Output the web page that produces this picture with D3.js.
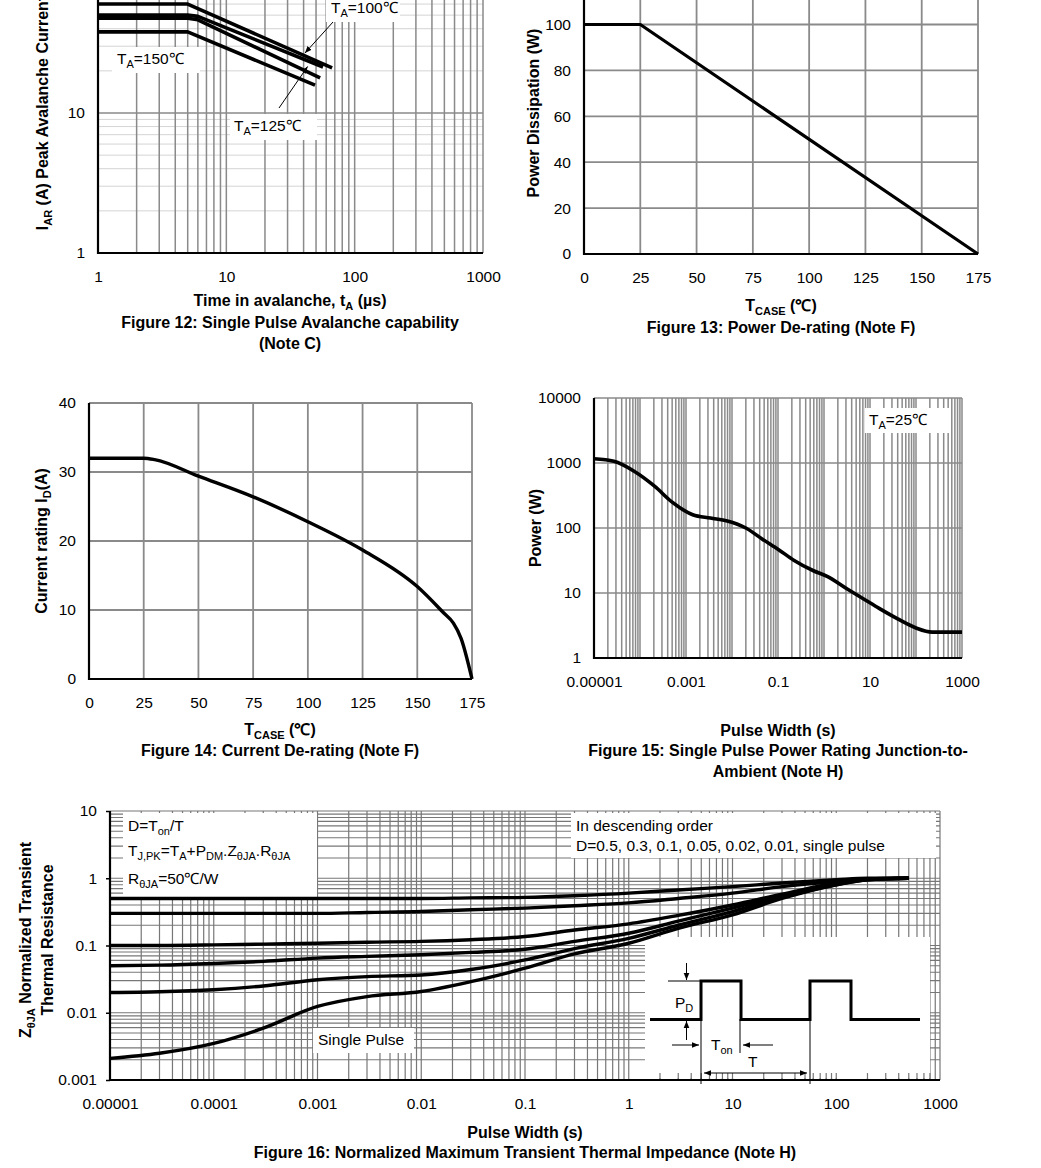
<!DOCTYPE html>
<html>
<head>
<meta charset="utf-8">
<script src="https://cdn.jsdelivr.net/npm/d3@7"></script>
<style>
body { margin: 0; background: #fff; }
svg { display: block; font-family: "Liberation Sans", Arial, Helvetica, sans-serif; }
</style>
</head>
<body>
<svg id="sheet" width="1041" height="1168"></svg>
<script>
"use strict";

// ---- Figure 12: avalanche current vs time (us, A) ----
var avT1 = [1, 5, 66.7], avI1 = [60, 60, 21];
var avT2 = [1, 5, 6, 56.7], avI2 = [50, 50, 49, 21.3];
var avT3 = [1, 5, 6, 53.8], avI3 = [47.5, 47.5, 46.3, 17.8];
var avT4 = [1, 5, 49.1], avI4 = [38, 38, 15.8];
var avXTicks = [1, 10, 100, 1000], avXLabels = ["1", "10", "100", "1000"];
var avYTicks = [1, 10, 100], avYLabels = ["1", "10", "100"];

// ---- Figure 13: power de-rating ----
var pdTemp = [0, 25, 175];
var pdPower = [100, 100, 0];
var pdXTicks = [0, 25, 50, 75, 100, 125, 150, 175];
var pdYTicks = [0, 20, 40, 60, 80, 100, 120];

// ---- Figure 14: current de-rating ----
var idTemp = [0, 25, 30, 50, 75, 100, 125, 150, 162, 166.5, 170, 175];
var idCurrent = [32, 32, 31.8, 29.4, 26.4, 22.8, 18.7, 13.4, 9.6, 8.1, 5.9, 0];
var idXTicks = [0, 25, 50, 75, 100, 125, 150, 175];
var idYTicks = [0, 10, 20, 30, 40];

// ---- Figure 15: single pulse power ----
var spWidth = [1e-5, 2.7e-5, 7.6e-5, 2.1e-4, 5e-4, 1.4e-3, 3.4e-3, 7.9e-3, 0.02, 0.045, 0.105, 0.22, 0.59, 1.17, 3.2, 7.9, 15.8, 40, 100, 224, 1000];
var spPower = [1160, 1060, 740, 436, 250, 160, 142, 128, 100, 68, 46, 32, 22, 18, 11.5, 7.8, 5.8, 4.0, 2.9, 2.5, 2.5];
var spXTicks = [1e-5, 1e-3, 0.1, 10, 1000], spXLabels = ["0.00001", "0.001", "0.1", "10", "1000"];
var spYTicks = [1, 10, 100, 1000, 10000], spYLabels = ["1", "10", "100", "1000", "10000"];

// ---- Figure 16: normalized transient thermal impedance ----
var ztTime = [1e-5, 3e-5, 1e-4, 3e-4, 1e-3, 3e-3, 0.01, 0.03, 0.1, 0.3, 1, 3, 10, 30, 100, 200, 500];
var ztD05 = [0.5, 0.5, 0.5, 0.5, 0.5, 0.5, 0.5, 0.51, 0.52, 0.55, 0.6, 0.67, 0.75, 0.85, 0.95, 1.0, 1.0];
var ztD03 = [0.3, 0.3, 0.3, 0.3, 0.3, 0.31, 0.32, 0.34, 0.36, 0.39, 0.43, 0.5, 0.6, 0.75, 0.9, 0.98, 1.0];
var ztD01 = [0.1, 0.1, 0.102, 0.105, 0.108, 0.112, 0.115, 0.122, 0.136, 0.17, 0.21, 0.28, 0.4, 0.58, 0.85, 0.97, 1.0];
var ztD005 = [0.05, 0.051, 0.054, 0.058, 0.065, 0.069, 0.073, 0.079, 0.088, 0.115, 0.152, 0.23, 0.36, 0.55, 0.82, 0.96, 1.0];
var ztD002 = [0.02, 0.0205, 0.022, 0.025, 0.031, 0.0345, 0.0365, 0.044, 0.061, 0.09, 0.128, 0.2, 0.32, 0.52, 0.8, 0.95, 1.0];
var ztSingle = [0.0021, 0.0025, 0.0035, 0.0059, 0.0124, 0.0174, 0.0207, 0.029, 0.046, 0.075, 0.108, 0.18, 0.285, 0.5, 0.8, 0.95, 1.0];
var ztXTicks = [1e-5, 1e-4, 1e-3, 0.01, 0.1, 1, 10, 100, 1000];
var ztXLabels = ["0.00001", "0.0001", "0.001", "0.01", "0.1", "1", "10", "100", "1000"];
var ztYTicks = [0.001, 0.01, 0.1, 1, 10], ztYLabels = ["0.001", "0.01", "0.1", "1", "10"];

var svg = d3.select("#sheet");
svg.append("rect").attr("width", 1041).attr("height", 1168).attr("fill", "#fff");

var defs = svg.append("defs");
defs.append("marker").attr("id", "arr")
    .attr("viewBox", "0 0 10 10").attr("refX", 10).attr("refY", 5)
    .attr("markerWidth", 7).attr("markerHeight", 7).attr("orient", "auto-start-reverse")
    .append("path").attr("d", "M0,1 L10,5 L0,9 Z").attr("fill", "#000");

var GRID = "#8a8a8a";
var FS = 15.5, FSB = 16, FSUB = 11;

function logVals(lo, hi) {
    var out = [];
    for (var e = Math.round(Math.log10(lo)); e < Math.round(Math.log10(hi)); e++) {
        for (var k = 1; k < 10; k++) out.push(k * Math.pow(10, e));
    }
    out.push(hi);
    return out;
}
function isDecade(d) {
    var l = Math.log10(d);
    return Math.abs(l - Math.round(l)) < 1e-9;
}

function vlines(g, x, y, vals, color, w) {
    g.append("g").selectAll("line").data(vals).enter().append("line")
        .attr("x1", function (d) { return x(d); }).attr("x2", function (d) { return x(d); })
        .attr("y1", y.range()[0]).attr("y2", y.range()[1])
        .attr("stroke", color).attr("stroke-width", w);
}
function hlines(g, x, y, vals, color, w) {
    g.append("g").selectAll("line").data(vals).enter().append("line")
        .attr("y1", function (d) { return y(d); }).attr("y2", function (d) { return y(d); })
        .attr("x1", x.range()[0]).attr("x2", x.range()[1])
        .attr("stroke", color).attr("stroke-width", w);
}
function frame(g, x, y) {
    g.append("line").attr("x1", x.range()[0]).attr("x2", x.range()[0])
        .attr("y1", y.range()[0] + 1).attr("y2", y.range()[1])
        .attr("stroke", "#000").attr("stroke-width", 2.2);
    g.append("line").attr("x1", x.range()[0]).attr("x2", x.range()[1])
        .attr("y1", y.range()[0]).attr("y2", y.range()[0])
        .attr("stroke", "#000").attr("stroke-width", 2.2);
}
function xAxis(g, x, y, vals, labels) {
    var a = g.append("g").attr("transform", "translate(0," + y.range()[0] + ")")
        .call(d3.axisBottom(x).tickValues(vals).tickSize(0).tickPadding(18)
            .tickFormat(function (d, i) { return labels ? labels[i] : String(d); }));
    a.select(".domain").remove();
    a.attr("font-size", FS).attr("font-family", null);
}
function yAxis(g, x, y, vals, labels, tick) {
    var a = g.append("g").attr("transform", "translate(" + x.range()[0] + ",0)")
        .call(d3.axisLeft(y).tickValues(vals).tickSize(tick || 0).tickPadding(tick ? 13 - tick : 13)
            .tickFormat(function (d, i) { return labels ? labels[i] : String(d); }));
    a.select(".domain").remove();
    a.selectAll(".tick line").attr("stroke", "#000").attr("stroke-width", 1.5);
    a.attr("font-size", FS).attr("font-family", null);
}
// text with subscripts: parts = [[string, isSub], ...]
function rich(t, parts) {
    var prev = false;
    parts.forEach(function (p) {
        var s = t.append("tspan").text(p[0]);
        if (p[1]) s.style("font-size", FSUB + "px");
        if (p[1] !== prev) s.attr("dy", p[1] ? 4 : -4);
        prev = p[1];
    });
    return t;
}
function label(g, x, y, parts, opt) {
    opt = opt || {};
    var t = g.append("text").attr("x", x).attr("y", y)
        .attr("text-anchor", opt.anchor || "start")
        .attr("font-size", opt.bold ? FSB : FS)
        .attr("font-weight", opt.bold ? "bold" : null);
    if (opt.rotate) {
        t.attr("x", 0).attr("y", 0).attr("transform", "translate(" + x + "," + y + ") rotate(-90)");
    }
    return rich(t, parts);
}
function box(g, x0, y0, x1, y1) {
    g.append("rect").attr("x", x0).attr("y", y0).attr("width", x1 - x0).attr("height", y1 - y0).attr("fill", "#fff");
}
function curve(g, x, y, xs, ys, w, kind) {
    var pts = xs.map(function (d, i) { return [d, ys[i]]; });
    g.append("path").datum(pts)
        .attr("d", d3.line().x(function (d) { return x(d[0]); }).y(function (d) { return y(d[1]); }).curve(kind || d3.curveLinear))
        .attr("fill", "none").attr("stroke", "#000").attr("stroke-width", w)
        .attr("stroke-linejoin", "round");
}

// ================= Figure 12 =================
var g12 = svg.append("g");
var x12 = d3.scaleLog().domain([1, 1000]).range([98, 483]);
var y12 = d3.scaleLog().domain([1, 100]).range([253, -27]);
var y12v = logVals(1, 100);
hlines(g12, x12, y12, y12v.filter(function (d) { return !isDecade(d); }), "#d4d4d4", 1);
hlines(g12, x12, y12, y12v.filter(isDecade), GRID, 1.4);
vlines(g12, x12, y12, logVals(1, 1000), GRID, 1.5);
box(g12, 112, 47, 200, 73);
box(g12, 230, 114, 317, 140);
box(g12, 326, -4, 400, 22);
label(g12, 117, 64, [["T", false], ["A", true], ["=150℃", false]]);
label(g12, 234, 131, [["T", false], ["A", true], ["=125℃", false]]);
label(g12, 331, 13, [["T", false], ["A", true], ["=100℃", false]]);
g12.append("line").attr("x1", 333).attr("y1", 22).attr("x2", x12(41)).attr("y2", y12(26.8))
    .attr("stroke", "#000").attr("stroke-width", 1).attr("marker-end", "url(#arr)");
g12.append("line").attr("x1", 279).attr("y1", 108).attr("x2", x12(43)).attr("y2", y12(21.5))
    .attr("stroke", "#000").attr("stroke-width", 1).attr("marker-end", "url(#arr)");
curve(g12, x12, y12, avT1, avI1, 3.6);
curve(g12, x12, y12, avT2, avI2, 3.6);
curve(g12, x12, y12, avT3, avI3, 3.6);
curve(g12, x12, y12, avT4, avI4, 3.6);
frame(g12, x12, y12);
xAxis(g12, x12, y12, avXTicks, avXLabels);
yAxis(g12, x12, y12, avYTicks, avYLabels);
label(g12, 290, 306, [["Time in avalanche, t", false], ["A", true], [" (µs)", false]], { anchor: "middle", bold: true });
label(g12, 290, 328, [["Figure 12: Single Pulse Avalanche capability", false]], { anchor: "middle", bold: true });
label(g12, 290, 349, [["(Note C)", false]], { anchor: "middle", bold: true });
label(g12, 48, 113, [["I", false], ["AR", true], [" (A) Peak Avalanche Current", false]], { anchor: "middle", bold: true, rotate: true });

// ================= Figure 13 =================
var g13 = svg.append("g");
var x13 = d3.scaleLinear().domain([0, 175]).range([584, 978]);
var y13 = d3.scaleLinear().domain([0, 120]).range([254, -21.4]);
vlines(g13, x13, y13, pdXTicks, GRID, 1.8);
hlines(g13, x13, y13, pdYTicks, GRID, 1.8);
curve(g13, x13, y13, pdTemp, pdPower, 3.2);
frame(g13, x13, y13);
xAxis(g13, x13, y13, pdXTicks);
yAxis(g13, x13, y13, pdYTicks.slice(0, 6));
label(g13, 781, 311, [["T", false], ["CASE", true], [" (℃)", false]], { anchor: "middle", bold: true });
label(g13, 781, 333, [["Figure 13: Power De-rating (Note F)", false]], { anchor: "middle", bold: true });
label(g13, 539, 113, [["Power Dissipation (W)", false]], { anchor: "middle", bold: true, rotate: true });

// ================= Figure 14 =================
var g14 = svg.append("g");
var x14 = d3.scaleLinear().domain([0, 175]).range([89, 472]);
var y14 = d3.scaleLinear().domain([0, 40]).range([679, 403]);
vlines(g14, x14, y14, idXTicks, GRID, 1.8);
hlines(g14, x14, y14, idYTicks, GRID, 1.8);
curve(g14, x14, y14, idTemp, idCurrent, 3.4, d3.curveMonotoneX);
frame(g14, x14, y14);
xAxis(g14, x14, y14, idXTicks);
yAxis(g14, x14, y14, idYTicks);
label(g14, 280, 735, [["T", false], ["CASE", true], [" (℃)", false]], { anchor: "middle", bold: true });
label(g14, 280, 756, [["Figure 14: Current De-rating (Note F)", false]], { anchor: "middle", bold: true });
label(g14, 47, 541, [["Current rating I", false], ["D", true], ["(A)", false]], { anchor: "middle", bold: true, rotate: true });

// ================= Figure 15 =================
var g15 = svg.append("g");
var x15 = d3.scaleLog().domain([1e-5, 1000]).range([594, 962]);
var y15 = d3.scaleLog().domain([1, 10000]).range([658, 398]);
vlines(g15, x15, y15, logVals(1e-5, 1000), GRID, 1.5);
hlines(g15, x15, y15, spYTicks, GRID, 1.6);
box(g15, 865, 408, 950, 433);
label(g15, 869, 425, [["T", false], ["A", true], ["=25℃", false]]);
curve(g15, x15, y15, spWidth, spPower, 3.6, d3.curveMonotoneX);
frame(g15, x15, y15);
xAxis(g15, x15, y15, spXTicks, spXLabels);
yAxis(g15, x15, y15, spYTicks, spYLabels);
label(g15, 778, 736, [["Pulse Width (s)", false]], { anchor: "middle", bold: true });
label(g15, 778, 756, [["Figure 15: Single Pulse Power Rating Junction-to-", false]], { anchor: "middle", bold: true });
label(g15, 778, 777, [["Ambient (Note H)", false]], { anchor: "middle", bold: true });
label(g15, 541, 528, [["Power (W)", false]], { anchor: "middle", bold: true, rotate: true });

// ================= Figure 16 =================
var g16 = svg.append("g");
var x16 = d3.scaleLog().domain([1e-5, 1000]).range([110, 940]);
var y16 = d3.scaleLog().domain([0.001, 10]).range([1080, 811]);
var x16v = logVals(1e-5, 1000);
hlines(g16, x16, y16, logVals(0.001, 10), "#777", 1.2);
vlines(g16, x16, y16, x16v, "#777", 1.2);
box(g16, 123, 813, 317, 897);
box(g16, 571, 813, 936, 858);
box(g16, 313, 1028, 414, 1053);
box(g16, 645, 937, 930, 1078);
// short tick stubs along the bottom edge inside the inset
g16.append("g").selectAll("line").data(x16v.filter(function (d) { return x16(d) > 648 && x16(d) < 930; }))
    .enter().append("line")
    .attr("x1", function (d) { return x16(d); }).attr("x2", function (d) { return x16(d); })
    .attr("y1", 1080).attr("y2", 1073).attr("stroke", "#777").attr("stroke-width", 1.2);

label(g16, 128, 831, [["D=T", false], ["on", true], ["/T", false]]);
label(g16, 128, 856, [["T", false], ["J,PK", true], ["=T", false], ["A", true], ["+P", false], ["DM", true], [".Z", false], ["θJA", true], [".R", false], ["θJA", true]]);
label(g16, 128, 884, [["R", false], ["θJA", true], ["=50℃/W", false]]);
label(g16, 576, 831, [["In descending order", false]]);
label(g16, 576, 851, [["D=0.5, 0.3, 0.1, 0.05, 0.02, 0.01, single pulse", false]]);
label(g16, 318, 1045, [["Single Pulse", false]]);

[ztD05, ztD03, ztD01, ztD005, ztD002, ztSingle].forEach(function (s) {
    curve(g16, x16, y16, ztTime, s, 3.4, d3.curveMonotoneX);
});

// pulse waveform inset
var wave = g16.append("g");
wave.append("path").attr("d", "M650,1019.5 H701 V981 H741 V1019.5 H810 V981 H851 V1019.5 H920")
    .attr("fill", "none").attr("stroke", "#000").attr("stroke-width", 3);
[[668, 981, 700, 981], [701, 1019, 701, 1084], [740, 1019, 740, 1053], [810, 1019, 810, 1084]].forEach(function (l) {
    wave.append("line").attr("x1", l[0]).attr("y1", l[1]).attr("x2", l[2]).attr("y2", l[3])
        .attr("stroke", "#000").attr("stroke-width", 1);
});
[[686.5, 963, 686.5, 980], [686.5, 1040, 686.5, 1021], [672, 1045, 699, 1045], [773, 1045, 743, 1045]].forEach(function (l) {
    wave.append("line").attr("x1", l[0]).attr("y1", l[1]).attr("x2", l[2]).attr("y2", l[3])
        .attr("stroke", "#000").attr("stroke-width", 1).attr("marker-end", "url(#arr)");
});
wave.append("line").attr("x1", 704).attr("y1", 1073).attr("x2", 807).attr("y2", 1073)
    .attr("stroke", "#000").attr("stroke-width", 1)
    .attr("marker-start", "url(#arr)").attr("marker-end", "url(#arr)");
label(wave, 675, 1008, [["P", false], ["D", true]]);
label(wave, 711, 1050, [["T", false], ["on", true]]);
label(wave, 748, 1067, [["T", false]]);

frame(g16, x16, y16);
xAxis(g16, x16, y16, ztXTicks, ztXLabels);
yAxis(g16, x16, y16, ztYTicks, ztYLabels, 4);
label(g16, 525, 1138, [["Pulse Width (s)", false]], { anchor: "middle", bold: true });
label(g16, 525, 1158, [["Figure 16: Normalized Maximum Transient Thermal Impedance (Note H)", false]], { anchor: "middle", bold: true });
label(g16, 31, 940, [["Z", false], ["θJA", true], [" Normalized Transient", false]], { anchor: "middle", bold: true, rotate: true });
label(g16, 53, 940, [["Thermal Resistance", false]], { anchor: "middle", bold: true, rotate: true });
</script>
</body>
</html>
